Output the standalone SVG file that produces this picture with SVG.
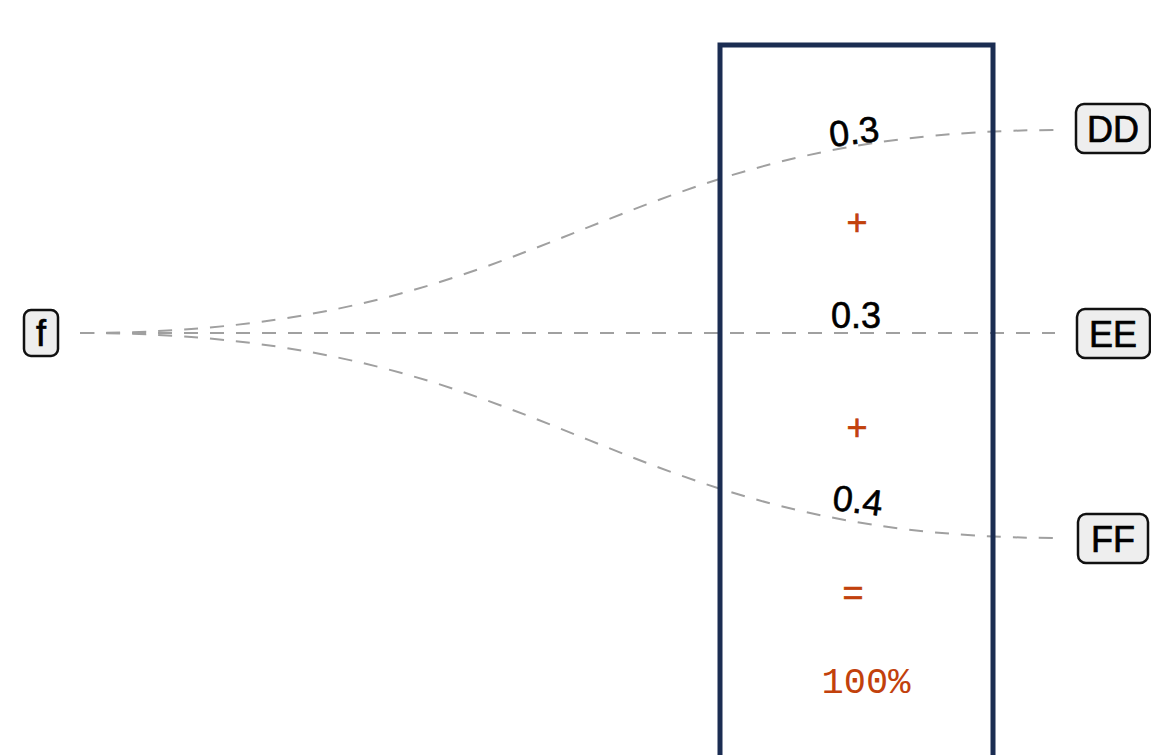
<svg xmlns="http://www.w3.org/2000/svg" width="1151" height="755" viewBox="0 0 1151 755">
<style>
.node rect{fill:#eeeeee;stroke:#111;stroke-width:2.5}
.node text{font-family:"Liberation Sans",Arial,sans-serif;font-size:36px;fill:#000;stroke:#000;stroke-width:0.7;text-anchor:middle;dominant-baseline:central}
.edge{fill:none;stroke:#a0a0a0;stroke-width:2;stroke-dasharray:14 12}
.lbl{font-family:"Liberation Sans",Arial,sans-serif;font-size:36px;fill:#000;stroke:#000;stroke-width:0.6;text-anchor:middle}
.op{font-family:"Liberation Sans",Arial,sans-serif;font-size:36px;fill:#c2410c;stroke:#c2410c;stroke-width:0.6;text-anchor:middle}
.mono{font-family:"Liberation Mono","DejaVu Sans Mono",monospace;font-size:37px;fill:#c2410c;text-anchor:middle}
</style>
<rect x="0" y="0" width="1151" height="755" fill="#fff"/>
<g id="connectors">
<path class="edge" d="M80,333 C560,333 600,130 1060,130"/>
<path class="edge" d="M80,333 L1055,333"/>
<path class="edge" d="M80,333 C560,333 600,538 1060,538"/>
</g>
<g id="box">
<rect x="720" y="45" width="273" height="730" fill="none" stroke="#1b2d52" stroke-width="5"/>
</g>
<g id="labels">
<text class="lbl" x="854" y="144" transform="rotate(-7 854 131)">0.3</text>
<text class="lbl" x="856" y="328">0.3</text>
<text class="lbl" x="858" y="513" transform="rotate(7 858 500)">0.4</text>
<text class="op" x="857" y="235">+</text>
<text class="op" x="857" y="440">+</text>
<text class="op" x="853" y="605">=</text>
<text class="mono" x="866" y="693">100%</text>
</g>
<g id="node-f" class="node"><rect x="24" y="310" width="34" height="46" rx="7"/><text x="41" y="333">f</text></g>
<g id="node-DD" class="node"><rect x="1076" y="104" width="74" height="49" rx="8"/><text x="1113" y="129">DD</text></g>
<g id="node-EE" class="node"><rect x="1077" y="309" width="73" height="49" rx="8"/><text x="1113" y="334">EE</text></g>
<g id="node-FF" class="node"><rect x="1078" y="514" width="70" height="49" rx="8"/><text x="1113" y="539">FF</text></g>
</svg>
